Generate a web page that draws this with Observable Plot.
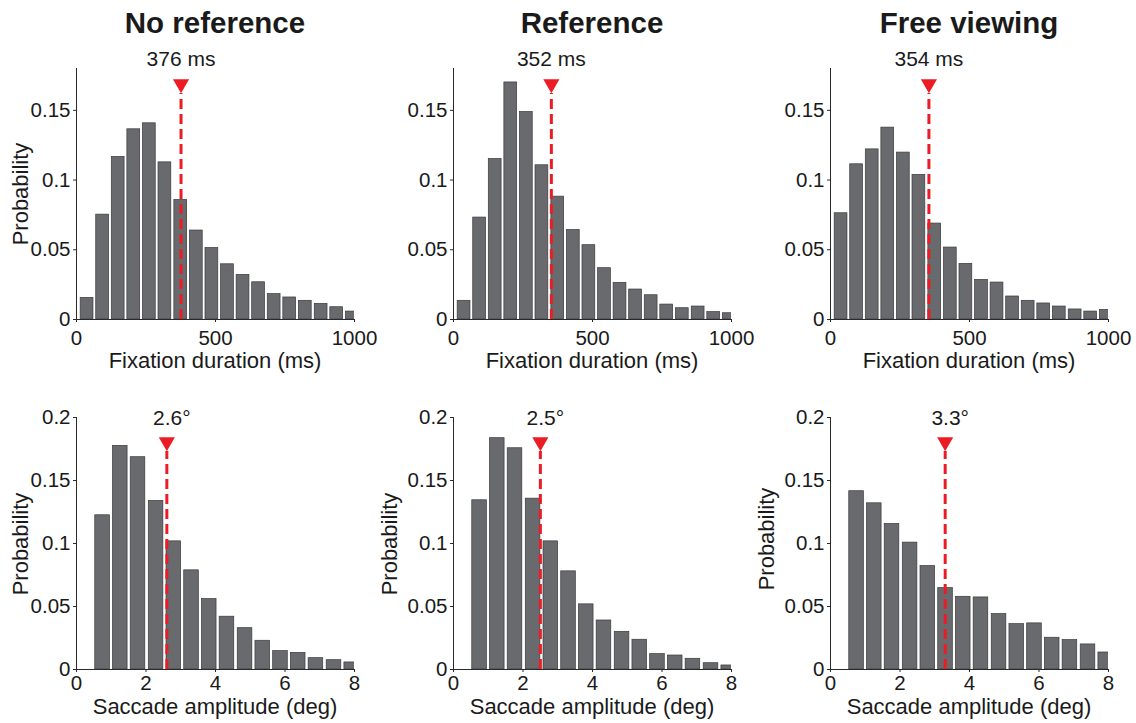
<!DOCTYPE html>
<html>
<head>
<meta charset="utf-8">
<script src="https://cdn.jsdelivr.net/npm/d3@7"></script>
<script src="https://cdn.jsdelivr.net/npm/@observablehq/plot@0.6"></script>
<style>
  body { margin: 0; background: #ffffff; }
  #root { position: relative; width: 1136px; height: 723px; overflow: hidden;
          font-family: "Liberation Sans", Arial, Helvetica, sans-serif; color: #1a1a1a; background: #fff; }
  .abs { position: absolute; white-space: nowrap; line-height: 0.8; }
  .cell { position: absolute; }
</style>
</head>
<body>
<div id="root"></div>
<script>
// ---------------- data ----------------
const conditions = ["No reference", "Reference", "Free viewing"];

// fixation duration histograms (bin centres in ms, probabilities)
const fixBinCenters = [38, 94, 150, 206, 262, 318, 375, 431, 487, 543, 599, 655, 711, 767, 823, 880, 936, 992];
const fixNoRef = [0.0155, 0.0752, 0.1166, 0.1364, 0.1407, 0.1127, 0.0857, 0.0638, 0.0513, 0.0396, 0.0320, 0.0267, 0.0182, 0.0158, 0.0134, 0.0112, 0.0088, 0.0057];
const fixRef   = [0.0134, 0.0731, 0.1151, 0.1700, 0.1488, 0.1106, 0.0881, 0.0642, 0.0533, 0.0368, 0.0263, 0.0215, 0.0174, 0.0107, 0.0081, 0.0093, 0.0053, 0.0045];
const fixFree  = [0.0762, 0.1113, 0.1220, 0.1376, 0.1197, 0.1037, 0.0688, 0.0516, 0.0399, 0.0284, 0.0265, 0.0165, 0.0134, 0.0115, 0.0093, 0.0072, 0.0057, 0.0069];
const fixMeans = [376, 352, 354];
const fixTicksX = [0, 500, 1000];
const fixTicksY = [0, 0.05, 0.1, 0.15];

// saccade amplitude histograms (bin centres in deg, probabilities)
const sacBinCenters = [0.75, 1.26, 1.77, 2.29, 2.80, 3.31, 3.82, 4.33, 4.85, 5.36, 5.87, 6.38, 6.89, 7.41, 7.92];
const sacNoRef = [0.1224, 0.1775, 0.1685, 0.1338, 0.1017, 0.0787, 0.0559, 0.0419, 0.0328, 0.0228, 0.0146, 0.0132, 0.0090, 0.0074, 0.0056];
const sacRef   = [0.1343, 0.1836, 0.1756, 0.1356, 0.1017, 0.0779, 0.0517, 0.0389, 0.0299, 0.0236, 0.0122, 0.0111, 0.0085, 0.0050, 0.0032];
const sacFree  = [0.1415, 0.1319, 0.1155, 0.1007, 0.0821, 0.0646, 0.0577, 0.0572, 0.0440, 0.0360, 0.0366, 0.0252, 0.0233, 0.0199, 0.0135];
const sacMeans = [2.6, 2.5, 3.3];
const sacTicksX = [0, 2, 4, 6, 8];
const sacTicksY = [0, 0.05, 0.1, 0.15, 0.2];

const yAxisLabel = "Probability";
const fixXLabel = "Fixation duration (ms)";
const sacXLabel = "Saccade amplitude (deg)";

// ---------------- style / layout ----------------
const FONT = '"Liberation Sans", Arial, Helvetica, sans-serif';
const TEXT = "#1a1a1a";
const AXIS = "#2a2a2a";
const BAR_FILL = "#696a6e";
const BAR_STROKE = "#3a3a3c";
const RED = "#ec1c24";
const colLeft = [0, 377, 754];
const SVG_W = 378, M_LEFT = 76, M_RIGHT = 24;
const LABEL_SIZE = 22;
const BASELINE_EM = 0.7465; // baseline offset for line-height 0.8 (Liberation Sans metrics)

const rows = [
  {
    bins: fixBinCenters, values: [fixNoRef, fixRef, fixFree], means: fixMeans,
    xTicks: fixTicksX, yTicks: fixTicksY, xDomain: [0, 1000], yMax: 0.18,
    top: 30, height: 355, marginTop: 38, marginBottom: 66, xTickPadding: 8,
    barWidth: 46, labelY: 0.1815, triY: 0.169, lineTop: 0.162, labelDx: 0,
    fmt: d => `${d} ms`, xLabel: fixXLabel, xLabelBaseline: 368,
    yLabelX: [21, null, null], yLabelY: [193.5, null, null]
  },
  {
    bins: sacBinCenters, values: [sacNoRef, sacRef, sacFree], means: sacMeans,
    xTicks: sacTicksX, yTicks: sacTicksY, xDomain: [0, 8], yMax: 0.2,
    top: 385, height: 338, marginTop: 32, marginBottom: 54, xTickPadding: 3,
    barWidth: 0.42, labelY: 0.1937, triY: 0.1807, lineTop: 0.173, labelDx: 5,
    fmt: d => `${d.toFixed(1)}°`, xLabel: sacXLabel, xLabelBaseline: 714,
    yLabelX: [21, 389.5, 767], yLabelY: [544, 544, 538.5]
  }
];

// downward pointing triangle symbol
const triDown = {
  draw(context, size) {
    const s = Math.sqrt(size / (Math.sqrt(3) / 4));
    const h = s * Math.sqrt(3) / 2;
    context.moveTo(-s / 2, -h / 3);
    context.lineTo(s / 2, -h / 3);
    context.lineTo(0, 2 * h / 3);
    context.closePath();
  }
};

const root = document.getElementById("root");

function addText(str, {x, baseline, size, weight = "normal"}) {
  const d = document.createElement("div");
  d.className = "abs";
  d.textContent = str;
  d.style.left = x + "px";
  d.style.top = (baseline - BASELINE_EM * size) + "px";
  d.style.fontSize = size + "px";
  d.style.fontWeight = weight;
  d.style.transform = "translateX(-50%)";
  root.appendChild(d);
}
function addVText(str, {cx, cy, size}) {
  const d = document.createElement("div");
  d.className = "abs";
  d.textContent = str;
  d.style.left = cx + "px";
  d.style.top = cy + "px";
  d.style.fontSize = size + "px";
  d.style.transform = "translate(-50%, -50%) rotate(-90deg)";
  root.appendChild(d);
}

function panel(row, col) {
  const data = row.bins.map((c, i) => ({c, p: row.values[col][i]}));
  const mean = row.means[col];
  return Plot.plot({
    width: SVG_W, height: row.height,
    marginLeft: M_LEFT, marginRight: M_RIGHT,
    marginTop: row.marginTop, marginBottom: row.marginBottom,
    style: {fontFamily: FONT, fontSize: "20px", color: TEXT, background: "transparent", overflow: "visible"},
    x: {domain: row.xDomain, axis: null},
    y: {domain: [0, row.yMax], axis: null},
    marks: [
      Plot.rect(data, {
        x1: d => d.c - row.barWidth / 2, x2: d => d.c + row.barWidth / 2,
        y1: 0, y2: "p", fill: BAR_FILL, stroke: BAR_STROKE, strokeWidth: 0.7, clip: true
      }),
      Plot.ruleY([0], {stroke: AXIS, strokeWidth: 1}),
      Plot.ruleX([row.xDomain[0]], {stroke: AXIS, strokeWidth: 1}),
      Plot.axisX(row.xTicks, {tickSize: 3, tickPadding: row.xTickPadding, tickFormat: d => String(d), fontSize: 20.5, label: null, stroke: AXIS}),
      Plot.axisY(row.yTicks, {tickSize: 3, tickPadding: 3, tickFormat: d => String(d), fontSize: 20.5, label: null, stroke: AXIS}),
      Plot.ruleX([mean], {x: d => d, y1: 0, y2: row.lineTop, stroke: RED, strokeWidth: 3, strokeDasharray: "10,5"}),
      Plot.dot([mean], {x: d => d, y: row.triY, symbol: triDown, r: 6, fill: RED, stroke: "none"}),
      Plot.text([mean], {x: d => d, y: row.labelY, text: row.fmt, lineAnchor: "bottom", fontSize: 21, dx: row.labelDx, fill: TEXT})
    ]
  });
}

rows.forEach((row, r) => {
  for (let c = 0; c < 3; c++) {
    const cell = document.createElement("div");
    cell.className = "cell";
    cell.style.left = colLeft[c] + "px";
    cell.style.top = row.top + "px";
    cell.appendChild(panel(row, c));
    root.appendChild(cell);
    const plotCenter = colLeft[c] + M_LEFT + (SVG_W - M_LEFT - M_RIGHT) / 2;
    addText(row.xLabel, {x: plotCenter, baseline: row.xLabelBaseline, size: LABEL_SIZE});
    if (r === 0) addText(conditions[c], {x: plotCenter, baseline: 33.3, size: 29.5, weight: "bold"});
    if (row.yLabelX[c] != null) addVText(yAxisLabel, {cx: row.yLabelX[c], cy: row.yLabelY[c], size: LABEL_SIZE});
  }
});
</script>
</body>
</html>
